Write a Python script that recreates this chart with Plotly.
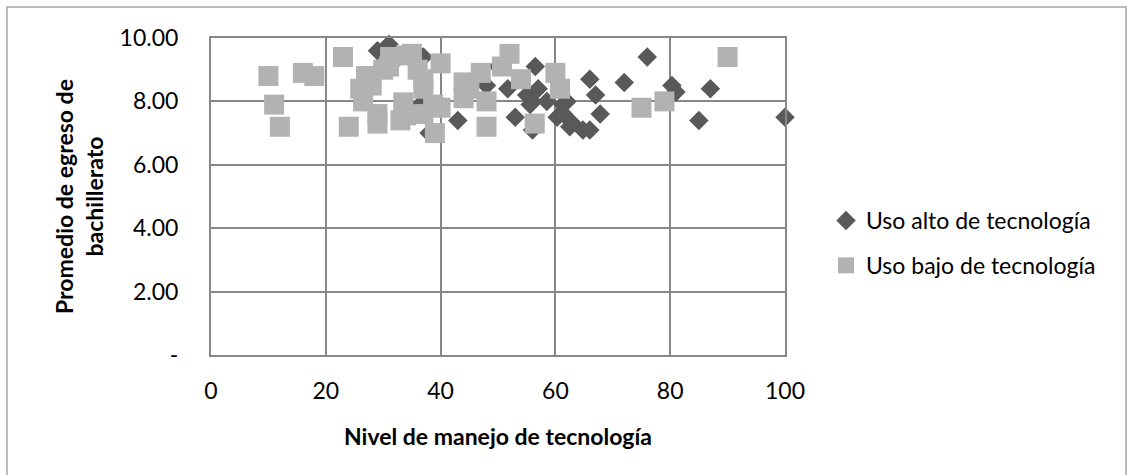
import plotly.graph_objects as go

# Uso alto de tecnología (diamonds)
alto_x = [29, 31, 37, 36, 36.5, 38, 43, 48, 50, 51.7, 53, 55, 55.6, 56.5, 57, 56, 58.5, 56,
          60.3, 61.4, 61.3, 62, 62.5, 64.8, 63, 66, 66, 67, 67.8, 72, 76, 80.3, 81, 85, 87, 100]
alto_y = [9.6, 9.8, 9.4, 9.5, 7.9, 7.0, 7.4, 8.5, 9.1, 8.4, 7.5, 8.2, 7.9, 9.1, 8.4, 8.0, 8.0, 7.1,
          7.5, 7.6, 7.9, 8.0, 7.2, 7.1, 7.3, 7.1, 8.7, 8.2, 7.6, 8.6, 9.4, 8.5, 8.3, 7.4, 8.4, 7.5]

# Uso bajo de tecnología (squares)
bajo_x = [10, 11, 12, 16, 18, 23, 24, 26, 27, 26.5, 28, 29, 29, 30, 31, 31.2, 33, 33.5, 34, 34,
          35, 36, 37, 37, 37, 38.7, 39, 40, 40, 44, 44, 45, 47, 48, 48, 50.7, 52, 54, 56.4,
          60, 60.8, 75, 79, 90]
bajo_y = [8.8, 7.9, 7.2, 8.9, 8.8, 9.4, 7.2, 8.4, 8.8, 8.0, 8.5, 7.3, 7.6, 9.0, 9.1, 9.4, 7.4, 7.97, 7.56, 9.45,
          9.5, 9.0, 8.7, 8.4, 7.6, 7.9, 7.0, 9.2, 7.8, 8.6, 8.1, 8.4, 8.9, 8.0, 7.2, 9.1, 9.5, 8.7, 7.3,
          8.9, 8.4, 7.8, 8.0, 9.4]

x_ticks = [0, 20, 40, 60, 80, 100]
y_ticks = [0, 2, 4, 6, 8, 10]
y_ticktext = ["-", "2.00", "4.00", "6.00", "8.00", "10.00"]

FONT = "Lato, 'Open Sans', sans-serif"
FS = 23

fig = go.Figure()
fig.add_trace(go.Scatter(
    x=alto_x, y=alto_y, mode="markers", name="Uso alto de tecnología",
    legendgroup="a", cliponaxis=False,
    marker=dict(symbol="diamond", size=15, color="#595959", line=dict(width=0)),
))
fig.add_trace(go.Scatter(
    x=bajo_x, y=bajo_y, mode="markers", name="Uso bajo de tecnología",
    legendgroup="b", cliponaxis=False,
    marker=dict(symbol="square", size=20, color="#b2b2b2", line=dict(width=0)),
))

L, R, T, B = 211, 348, 38, 120
W, H = 1133, 475
pw = W - L - R
ph = H - T - B

def px_x(px):
    return (px - L) / pw

def px_y(py):
    return (H - B - py) / ph

fig.update_layout(
    width=W, height=H,
    margin=dict(l=L, r=R, t=T, b=B),
    paper_bgcolor="white", plot_bgcolor="white",
    font=dict(family=FONT, size=FS, color="#000000"),
    showlegend=True,
    legend=dict(
        x=px_x(826), y=px_y(243), xanchor="left", yanchor="middle",
        traceorder="grouped", tracegroupgap=12,
        font=dict(family=FONT, size=FS, color="#000000"),
        bgcolor="rgba(0,0,0,0)",
    ),
    xaxis=dict(
        range=[0, 100], tickvals=x_ticks, ticktext=[str(v) for v in x_ticks],
        showgrid=True, gridcolor="#878787", gridwidth=2,
        zeroline=False, showline=True, linecolor="#878787", linewidth=2, mirror=True,
        ticks="", ticklabelstandoff=14,
        title=dict(text="<b>Nivel de manejo de tecnología</b>", standoff=26,
                   font=dict(family=FONT, size=FS)),
        fixedrange=True,
    ),
    yaxis=dict(
        range=[0, 10], tickvals=y_ticks, ticktext=y_ticktext,
        showgrid=True, gridcolor="#878787", gridwidth=2,
        zeroline=False, showline=True, linecolor="#878787", linewidth=2, mirror=True,
        ticks="", ticklabelstandoff=26,
        title=dict(text="<b>Promedio de egreso de<br>bachillerato</b>", standoff=10,
                   font=dict(family=FONT, size=FS)),
        fixedrange=True,
    ),
    shapes=[dict(
        type="rect", xref="paper", yref="paper",
        x0=px_x(7), x1=px_x(1126), y0=px_y(490), y1=px_y(7),
        line=dict(color="#a6a6a6", width=1.5), fillcolor="rgba(0,0,0,0)", layer="below",
    )],
)

fig.write_html("out.html", config={"displayModeBar": False},
               post_script="document.body.style.margin='0';document.body.style.overflow='hidden';")
